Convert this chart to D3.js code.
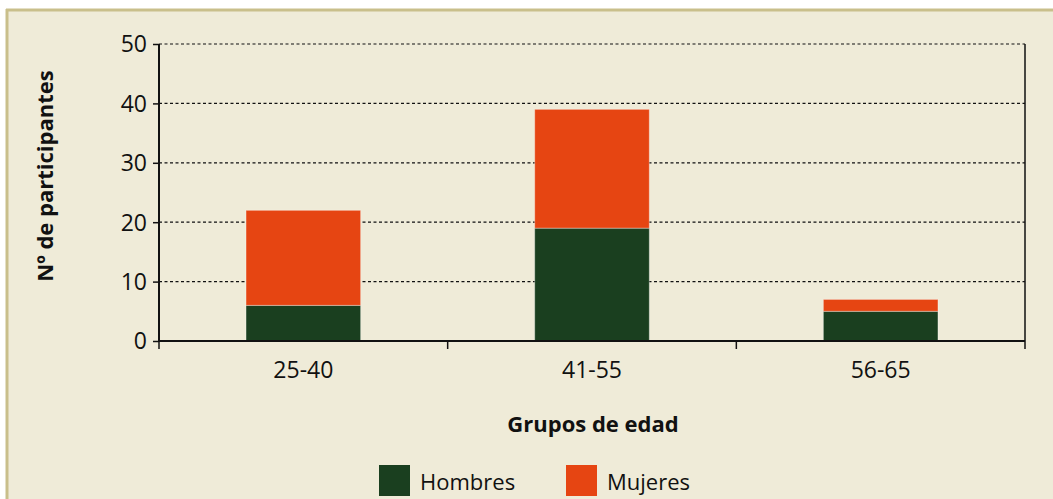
<!DOCTYPE html>
<html>
<head>
<meta charset="utf-8">
<script src="https://cdn.jsdelivr.net/npm/d3@7/dist/d3.min.js"></script>
<style>
html,body{margin:0;padding:0;background:#fff;}
svg{display:block;}
text{font-family:"Open Sans","Noto Sans",sans-serif;fill:#111;}
</style>
</head>
<body>
<svg id="chart" width="1053" height="499"></svg>
<script>
const categories = ["25-40", "41-55", "56-65"];
const hombres = [6, 19, 5];
const mujeres = [16, 20, 2];
const seriesNames = ["Hombres", "Mujeres"];
const seriesColors = ["#1a3f1f", "#e64512"];
const yTicks = [0, 10, 20, 30, 40, 50];

const svg = d3.select("#chart");
const W = 1053, H = 499;

// frame background
svg.append("rect").attr("x", 7).attr("y", 10).attr("width", W - 7).attr("height", H - 10).attr("fill", "#efebd8");
svg.append("line").attr("x1", 6).attr("x2", W).attr("y1", 10).attr("y2", 10).attr("stroke", "#c9bf8b").attr("stroke-width", 3);
svg.append("line").attr("x1", 7).attr("x2", 7).attr("y1", 9).attr("y2", H).attr("stroke", "#c9bf8b").attr("stroke-width", 3);

const m = {left: 159, right: 1025, top: 44, bottom: 341};
const x = d3.scaleBand().domain(categories).range([m.left, m.right]).padding(0);
const y = d3.scaleLinear().domain([0, 50]).range([m.bottom, m.top]);

// grid lines
svg.append("g").selectAll("line").data(yTicks.filter(d => d > 0)).join("line")
  .attr("x1", m.left).attr("x2", m.right)
  .attr("y1", d => y(d)).attr("y2", d => y(d))
  .attr("stroke", "#111").attr("stroke-width", 1.2).attr("stroke-dasharray", "3,2.5");

// stacked bars
const rows = categories.map((c, i) => ({cat: c, Hombres: hombres[i], Mujeres: mujeres[i]}));
const stack = d3.stack().keys(seriesNames)(rows);
const bw = x.bandwidth() * 0.397;
svg.append("g").selectAll("g").data(stack).join("g")
  .attr("fill", (d, i) => seriesColors[i])
  .selectAll("rect").data(d => d).join("rect")
  .attr("x", d => x(d.data.cat) + (x.bandwidth() - bw) / 2)
  .attr("width", bw)
  .attr("y", d => y(d[1]))
  .attr("height", d => y(d[0]) - y(d[1]))
  .attr("stroke", "rgba(255,255,255,0.35)").attr("stroke-width", 1);

// y axis
const yAxis = d3.axisLeft(y).tickValues(yTicks).tickSize(6).tickPadding(6);
const gy = svg.append("g").attr("transform", `translate(${m.left},0)`).call(yAxis);
gy.select(".domain").remove();
gy.selectAll(".tick line").attr("stroke", "#111").attr("stroke-width", 1.5);
gy.selectAll(".tick text").style("font-size", "23px").attr("fill", "#111").attr("dy", "0.34em");
svg.append("line").attr("x1", m.left).attr("x2", m.left).attr("y1", m.top).attr("y2", m.bottom + 1)
  .attr("stroke", "#111").attr("stroke-width", 2);

// x axis
const gx = svg.append("g").attr("transform", `translate(0,${m.bottom})`)
  .call(d3.axisBottom(x).tickSize(0).tickPadding(0));
gx.select(".domain").remove();
gx.selectAll(".tick text").style("font-size", "23px").attr("fill", "#111").attr("dy", null).attr("y", 37);
svg.append("line").attr("x1", m.left).attr("x2", m.right).attr("y1", m.bottom).attr("y2", m.bottom)
  .attr("stroke", "#111").attr("stroke-width", 2);
const bounds = categories.map(c => x(c)).concat([m.right]);
svg.append("g").selectAll("line").data(bounds).join("line")
  .attr("x1", d => d).attr("x2", d => d)
  .attr("y1", (d, i) => i === bounds.length - 1 ? m.top : m.bottom)
  .attr("y2", m.bottom + 8)
  .attr("stroke", "#111").attr("stroke-width", 1.5);

// axis titles
svg.append("text").attr("transform", `translate(53,176) rotate(-90)`)
  .attr("text-anchor", "middle").style("font-size", "22px").style("font-weight", "bold")
  .text("Nº de participantes");
svg.append("text").attr("x", 593).attr("y", 432).attr("text-anchor", "middle")
  .style("font-size", "22px").style("font-weight", "bold").text("Grupos de edad");

// legend
const legX = [379, 566];
const leg = svg.append("g").selectAll("g").data(seriesNames).join("g")
  .attr("transform", (d, i) => `translate(${legX[i]},465)`);
leg.append("rect").attr("width", 31).attr("height", 31).attr("fill", (d, i) => seriesColors[i]);
leg.append("text").attr("x", 41).attr("y", 25).style("font-size", "22px").text(d => d);
</script>
</body>
</html>
